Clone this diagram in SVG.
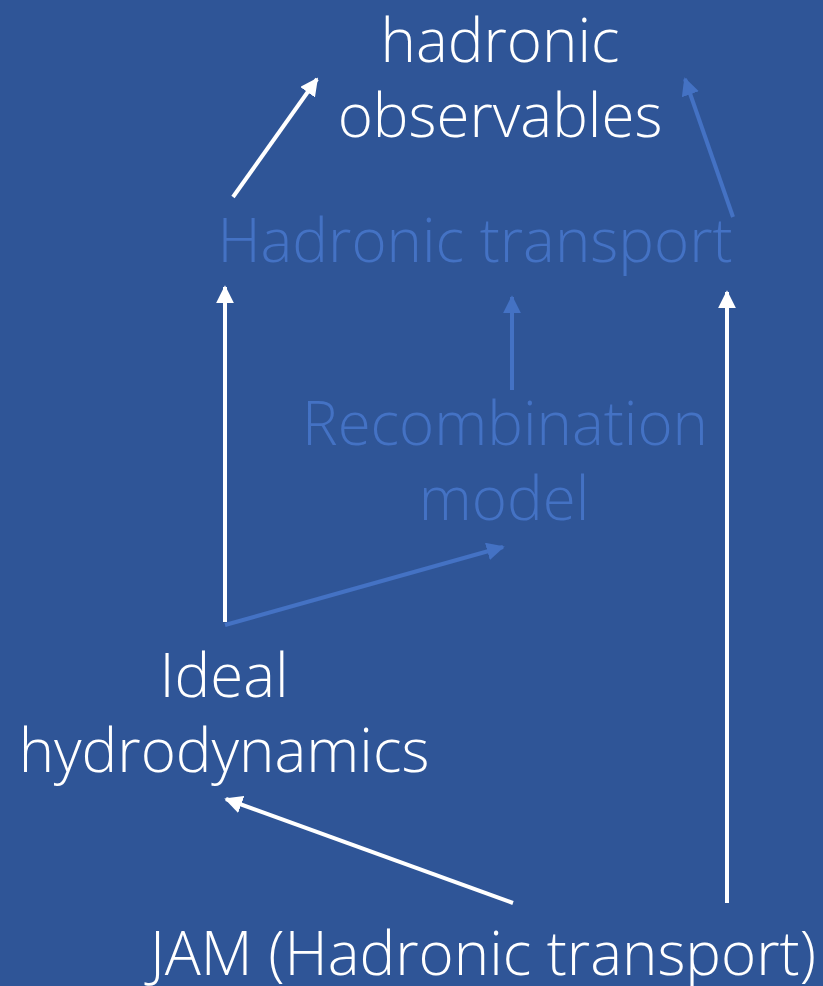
<svg xmlns="http://www.w3.org/2000/svg" width="823" height="986" viewBox="0 0 823 986">
<style>
.t{font-family:"Open Sans","Noto Sans","Liberation Sans",sans-serif;font-weight:300;font-size:60px;text-anchor:middle}
.w{fill:#FFFFFF}
.b{fill:#4472C4}
.lw{stroke:#FFFFFF;stroke-width:4;fill:none}
.lb{stroke:#4472C4;stroke-width:4;fill:none}
</style>
<defs>
<marker id="aw" viewBox="0 0 10 10" refX="9" refY="5" markerWidth="4.5" markerHeight="4.5" orient="auto" markerUnits="strokeWidth">
<path d="M0,0 L10,5 L0,10 Z" fill="#FFFFFF"/>
</marker>
<marker id="ab" viewBox="0 0 10 10" refX="9" refY="5" markerWidth="4.5" markerHeight="4.5" orient="auto" markerUnits="strokeWidth">
<path d="M0,0 L10,5 L0,10 Z" fill="#4472C4"/>
</marker>
</defs>
<rect width="823" height="986" fill="#2F5597"/>
<g id="connectors">
<line class="lw" x1="233" y1="197" x2="317" y2="79" marker-end="url(#aw)"/>
<line class="lb" x1="733" y1="217" x2="685" y2="79" marker-end="url(#ab)"/>
<line class="lw" x1="225" y1="622" x2="225" y2="287" marker-end="url(#aw)"/>
<line class="lb" x1="512" y1="390" x2="512" y2="297" marker-end="url(#ab)"/>
<line class="lw" x1="727" y1="903" x2="727" y2="292" marker-end="url(#aw)"/>
<line class="lb" x1="225" y1="625" x2="503" y2="547" marker-end="url(#ab)"/>
<line class="lw" x1="513" y1="903" x2="226" y2="799" marker-end="url(#aw)"/>
</g>
<g id="observables">
<text class="t w" x="500" y="62">hadronic</text>
<text class="t w" x="500" y="137">observables</text>
</g>
<g id="hadronic-transport">
<text class="t b" x="475" y="262">Hadronic transport</text>
</g>
<g id="recombination">
<text class="t b" x="505" y="445">Recombination</text>
<text class="t b" x="504" y="520">model</text>
</g>
<g id="hydro">
<text class="t w" x="224" y="697">Ideal</text>
<text class="t w" x="224" y="772">hydrodynamics</text>
</g>
<g id="jam">
<text class="t w" x="483" y="975">JAM (Hadronic transport)</text>
</g>
</svg>
